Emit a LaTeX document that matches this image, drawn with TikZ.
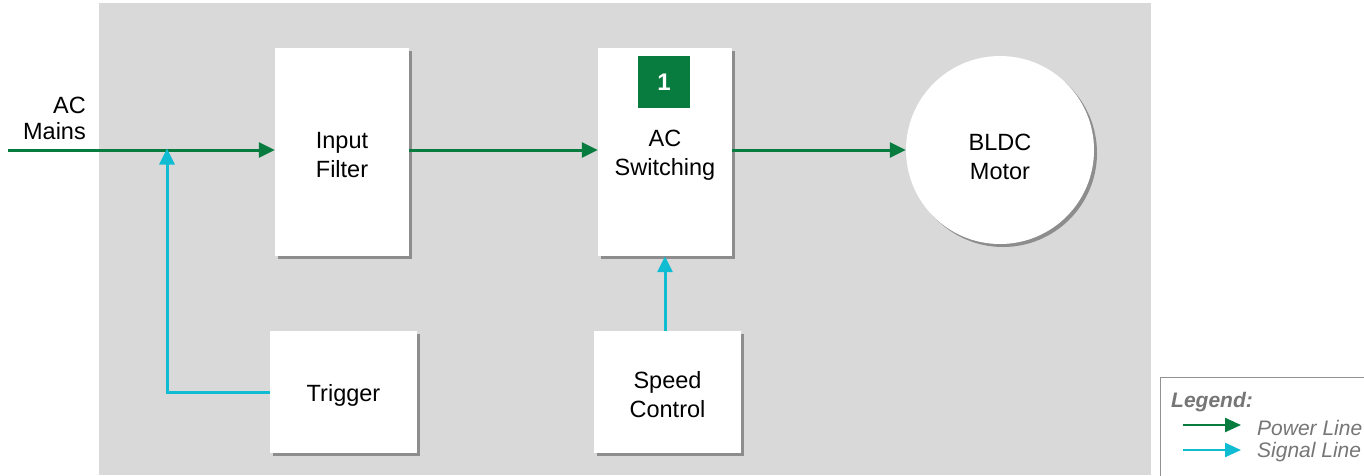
\documentclass[tikz,border=0pt]{standalone}
\usepackage{fontspec}
\setmainfont{Liberation Sans}
\usetikzlibrary{arrows.meta,shadows}
\definecolor{pwr}{RGB}{8,124,62}
\definecolor{sig}{RGB}{16,188,210}
\definecolor{panel}{RGB}{217,217,217}
\definecolor{lgtxt}{RGB}{118,118,118}
\tikzset{
  blk/.style={draw=none, fill=white, inner sep=0pt,
    drop shadow={shadow xshift=3pt, shadow yshift=-3pt, fill=black, opacity=0.35}},
  blktext/.style={font=\fontsize{23.5}{29}\selectfont, align=center, inner sep=0pt},
  power/.style={draw=pwr, line width=3pt, -{Triangle[length=16pt,width=15pt]}},
  signal/.style={draw=sig, line width=3pt, -{Triangle[length=16pt,width=15pt]}},
  legtext/.style={anchor=west, inner sep=0pt, text=lgtxt, font=\itshape\fontsize{21}{24}\selectfont},
}
\begin{document}
\begin{tikzpicture}[x=1pt,y=-1pt]
\useasboundingbox (0,0) rectangle (1364,475);
% grey panel
\fill[panel] (99,3) rectangle (1151,475);
% blocks
\node[blk, minimum width=134pt, minimum height=208pt] (filt) at (342,152) {};
\node[blktext] (filttxt) at (342,155) {Input\\Filter};
\node[blk, minimum width=134pt, minimum height=208pt] (sw) at (665,152) {};
\node[blktext] (swtxt) at (665,155) {AC\\Switching};
\node[fill=pwr, minimum width=52pt, minimum height=52pt, inner sep=0pt,
      text=white, font=\bfseries\fontsize{24}{26}\selectfont] (badge) at (664,82) {1};
\node[blk, minimum width=147pt, minimum height=122pt] (trig) at (343.5,392) {};
\node[blktext] (trigtxt) at (343.5,395) {Trigger};
\node[blk, minimum width=147pt, minimum height=122pt] (spd) at (667.5,392) {};
\node[blktext] (spdtxt) at (667.5,395) {Speed\\Control};
\node[blk, circle, minimum size=188pt] (motor) at (1000,150) {};
\node[blktext] (motortxt) at (1000,157) {BLDC\\Motor};
% AC mains input
\coordinate (acin) at (8,150);
\node[anchor=south east, align=right, font=\fontsize{23.5}{26}\selectfont, inner sep=0pt] (aclbl) at (86,140) {AC\\Mains};
% power path
\draw[power] (acin) -- (filt.west |- acin);
\draw[power] (filt.east |- acin) -- (sw.west |- acin);
\draw[power] (sw.east |- acin) -- (motor.west |- acin);
% signal paths
\coordinate (tj) at (167,150);
\draw[signal] (trig.west) -| ([yshift=1.5pt]tj);
\draw[signal] (spd.north -| sw.south) -- (sw.south);
% legend
\node[draw=lgtxt!80, line width=1.2pt, fill=white, minimum width=210pt, minimum height=100pt, anchor=north west] (leg) at (1160,377) {};
\node[legtext, font=\bfseries\itshape\fontsize{21}{24}\selectfont] (legt) at (1171,402) {Legend:};
\coordinate (p0) at (1183,425);
\coordinate (p1) at (1241,425);
\coordinate (s0) at (1183,450);
\coordinate (s1) at (1241,450);
\draw[power, line width=2.4pt, -{Triangle[length=16pt,width=14pt]}] (p0) -- (p1);
\draw[signal, line width=2.4pt, -{Triangle[length=16pt,width=14pt]}] (s0) -- (s1);
\node[legtext] (pl) at (1257,428) {Power Line};
\node[legtext] (sl) at (1257,452) {Signal Line};
\end{tikzpicture}
\end{document}
